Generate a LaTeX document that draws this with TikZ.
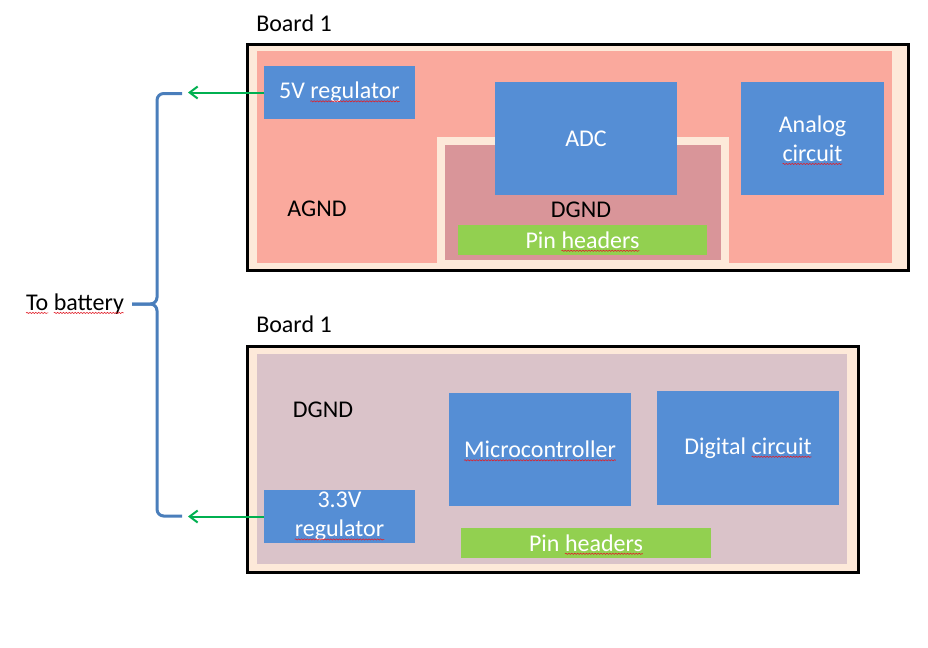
\documentclass[tikz,border=0pt]{standalone}
\usepackage{fontspec}
\setmainfont{Carlito}
\usetikzlibrary{fit,arrows.meta,decorations.pathmorphing}
\definecolor{beige}{HTML}{FDE9D9}
\definecolor{salmon}{HTML}{FAA99D}
\definecolor{dpink}{HTML}{D99599}
\definecolor{mauve}{HTML}{DAC3C9}
\definecolor{boxblue}{HTML}{558ED5}
\definecolor{pingreen}{HTML}{92D050}
\definecolor{arrowgreen}{HTML}{00B050}
\definecolor{braceblue}{HTML}{4A7EBB}
\definecolor{spellred}{HTML}{E0202A}
\newcommand\spell[1]{\tikz[baseline=(sw.base)]{\node[inner sep=0pt,outer sep=0pt](sw){#1};\draw[overlay,spellred,line width=0.45pt,decorate,decoration={snake,amplitude=0.45pt,segment length=2.2pt}]([yshift=-1.9pt]sw.base west)--([yshift=-1.9pt]sw.base east);}}
\begin{document}
\begin{tikzpicture}[x=0.75pt,y=-0.75pt,
  font=\fontsize{18}{22}\selectfont,
  region/.style={inner sep=0pt,outer sep=0pt},
  board/.style={region,fill=beige,draw=black,line width=2.25pt},
  bluebox/.style={region,fill=boxblue},
  greenbox/.style={region,fill=pingreen},
  intext/.style={text=white,align=center,inner sep=0pt},
  lbl/.style={text=black,inner sep=0pt},
  arr/.style={draw=arrowgreen,line width=1.5pt,-{Straight Barb[length=6pt,width=9pt]}},
  bracestyle/.style={draw=braceblue,line width=2.25pt,rounded corners=5pt}]
\useasboundingbox (0,0) rectangle (928,647);

% ---------- top board ----------
\node[lbl,anchor=west] (title1) at (256,23) {Board 1};
\node[board,fit={(247,44.7) (908,270.5)}] (board1) {};
\node[region,fill=salmon,fit={(257,51) (892,263)}] (agndzone) {};
\node[region,fill=dpink,draw=beige,line width=6pt,fit={(441,140.5) (725,264)}] (dgndzone) {};
\node[lbl] (agnd) at (317,209) {AGND};
\node[lbl] (dgnd1) at (581,210) {DGND};
\node[bluebox,fit={(264,66) (415,119)}] (reg5) {};
\node[intext] (reg5t) at (reg5.center) {5V \spell{regulator}};
\node[bluebox,fit={(495,82) (677,195)}] (adc) {};
\node[intext] (adct) at (adc.center) {ADC};
\node[bluebox,fit={(741,82) (884,195)}] (analog) {};
\node[intext] (analogt) at (analog.center) {Analog\\\spell{circuit}};
\node[greenbox,fit={(458,225) (707,255)}] (pins1) {};
\node[intext] (pins1t) at (pins1.center) {Pin \spell{headers}};

% ---------- bottom board ----------
\node[lbl,anchor=west] (title2) at (256,324) {Board 1};
\node[board,fit={(247,346.2) (858,572.7)}] (board2) {};
\node[region,fill=mauve,fit={(257,354) (847,564)}] (dgndzone2) {};
\node[lbl] (dgnd2) at (323,410) {DGND};
\node[bluebox,fit={(264,490) (415,543)}] (reg33) {};
\node[intext] (reg33t) at (reg33.center) {3.3V\\\spell{regulator}};
\node[bluebox,fit={(449,393) (631,506)}] (mcu) {};
\node[intext] (mcut) at (mcu.center) {\spell{Microcontroller}};
\node[bluebox,fit={(657,391) (839,505)}] (digital) {};
\node[intext] (digitalt) at (digital.center) {Digital \spell{circuit}};
\node[greenbox,fit={(461,528) (711,558)}] (pins2) {};
\node[intext] (pins2t) at (pins2.center) {Pin \spell{headers}};

% ---------- battery brace ----------
\coordinate (bt) at (182,93.5);
\coordinate (bm) at (132,304);
\coordinate (bb) at (182,516);
\draw[bracestyle] (bt) -- (157,93.5) -- (157,304) -- (bm);
\draw[bracestyle] (bm) -- (157,304) -- (157,516) -- (bb);
\node[lbl] (battery) at (75,304) {\spell{To} \spell{battery}};

\coordinate (in5) at (188,92.5);
\coordinate (in33) at (188,516.5);
\draw[arr] (reg5.west) -- (in5);
\draw[arr] (reg33.west) -- (in33);
\end{tikzpicture}
\end{document}
